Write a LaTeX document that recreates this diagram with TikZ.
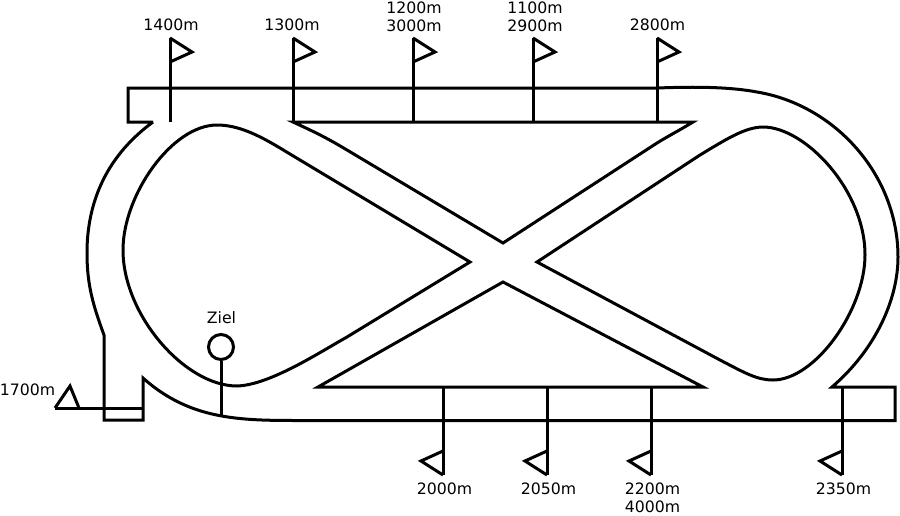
\documentclass[tikz,border=0pt]{standalone}
\usepackage{fontspec}
\setmainfont{DejaVu Sans}
\begin{document}
\begin{tikzpicture}[x=1pt,y=-1pt,
  track/.style={draw=black,line width=3pt,line join=miter,miter limit=10},
  pole/.style={draw=black,line width=3pt},
  lbl/.style={font=\fontsize{15.7}{18}\selectfont,align=center,inner sep=0pt,text=black}]
\useasboundingbox (0,0) rectangle (900,515);
% outer track
\path[track] (153,122) -- (128,122) -- (128,88) -- (657,88)
  .. controls (685,87) and (725,86) .. (757,92)
  .. controls (835,105) and (898,175) .. (898,257)
  .. controls (898,300) and (875,350) .. (832,387)
  -- (895,387) -- (895,420.5) -- (300,420.5)
  .. controls (240,420.5) and (190,420) .. (143,378)
  -- (143,420) -- (104,420) -- (104,335)
  .. controls (93,305) and (87,285) .. (87,253)
  .. controls (87,200) and (108,155) .. (153,122);
% left inner loop
\path[track] (470,262) -- (285,151)
  .. controls (262,137) and (240,125) .. (217,125)
  .. controls (172,125) and (123,195) .. (123,250)
  .. controls (123,315) and (185,386) .. (237,386)
  .. controls (270,385) and (320,352) .. (347,337) -- cycle;
% right inner loop
\path[track] (537,262) -- (700,155)
  .. controls (725,140) and (745,127) .. (763,127)
  .. controls (805,127) and (865,190) .. (865,255)
  .. controls (865,310) and (815,380) .. (773,380)
  .. controls (757,380) and (745,373) .. (720,360) -- cycle;
% triangles
\path[track] (293,122) -- (693,122)
  .. controls (680,130) and (670,135) .. (657,143)
  -- (503,243) -- (347,150)
  .. controls (322,135) and (310,130) .. (293,122) -- cycle;
\path[track] (503,282) -- (703,387) -- (318,387) -- cycle;
% top flags
\foreach \n/\x/\ybot in {a/170/122,b/293/122,c/413/122,d/533/122,e/657/122}{
  \coordinate (\n top) at (\x,38);
  \coordinate (\n base) at (\x,\ybot);
  \coordinate (\n tip) at (\x+22,52);
  \coordinate (\n low) at (\x,62);
  \draw[pole] (\n base) -- (\n top);
  \path[track] (\n top) -- (\n tip) -- (\n low);
}
% bottom flags
\foreach \n/\x in {f/443,g/547,h/651,i/842}{
  \coordinate (\n top) at (\x,387);
  \coordinate (\n bot) at (\x,475);
  \coordinate (\n tip) at (\x-22,461);
  \coordinate (\n up) at (\x,451);
  \draw[pole] (\n top) -- (\n bot);
  \path[track] (\n bot) -- (\n tip) -- (\n up);
}
% 1700 flag
\coordinate (sL) at (55,408);
\coordinate (sR) at (143,408);
\coordinate (sT) at (70,386);
\coordinate (sB) at (79,408);
\draw[pole] (sL) -- (sR);
\path[track] (sL) -- (sT) -- (sB);
% Ziel
\node[circle,draw=black,line width=3pt,minimum size=25pt,inner sep=0pt] (ziel) at (221,347) {};
\coordinate (zielfoot) at (221,417);
\draw[pole] (ziel.south) -- (zielfoot);
% labels
\node[lbl] (l1400) at (171,25) {1400m};
\node[lbl] (l1300) at (292,25) {1300m};
\node[lbl] (l1200) at (414,16.5) {1200m\\3000m};
\node[lbl] (l1100) at (535,16.5) {1100m\\2900m};
\node[lbl] (l2800) at (657.5,25) {2800m};
\node[lbl] (l1700) at (27.5,390) {1700m};
\node[lbl] (lziel) at (221.5,318) {Ziel};
\node[lbl] (l2000) at (444.5,489) {2000m};
\node[lbl] (l2050) at (548.5,489) {2050m};
\node[lbl] (l2200) at (652.5,498) {2200m\\4000m};
\node[lbl] (l2350) at (843.5,489) {2350m};
\end{tikzpicture}
\end{document}
